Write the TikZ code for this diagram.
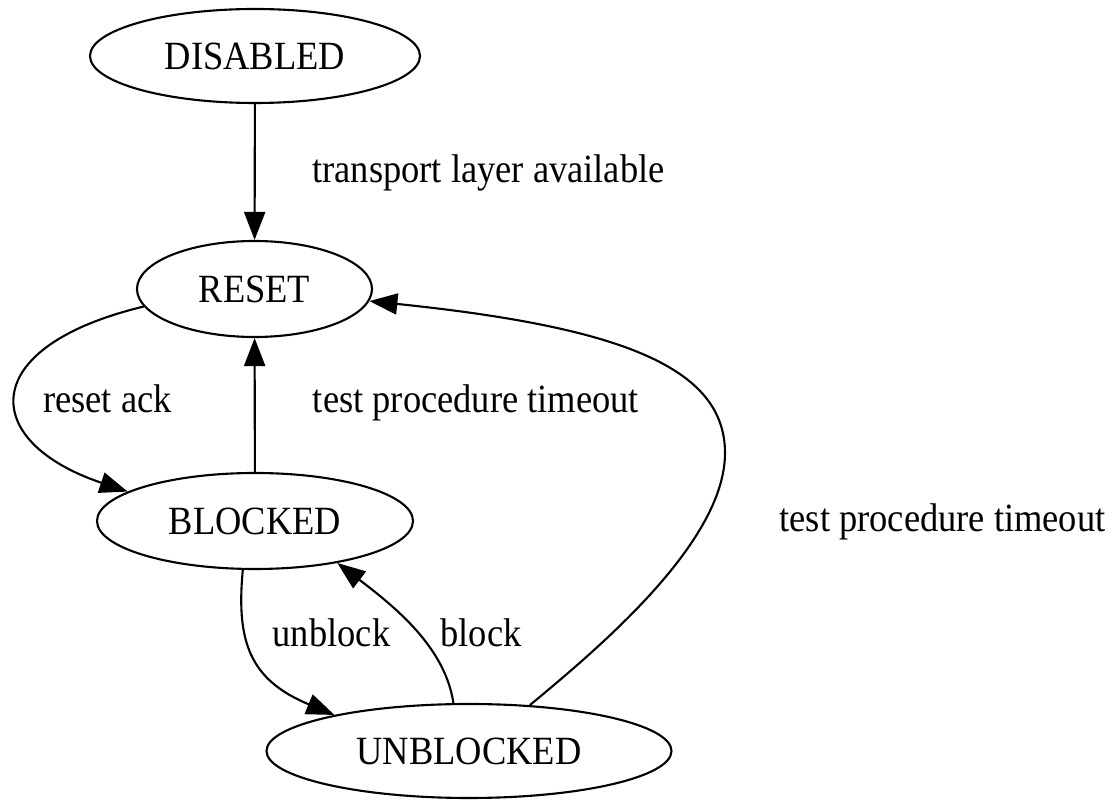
\documentclass[tikz,border=0pt]{standalone}
\usepackage{fontspec}
\setmainfont[FakeStretch=0.91]{Liberation Serif}
\usetikzlibrary{shapes.geometric,arrows.meta}

\tikzset{
  state/.style={draw, ellipse, line width=0.6pt, inner sep=0pt},
  lbl/.style={anchor=base, inner sep=0pt},
  edge/.style={line width=0.6pt, -{Triangle[length=2.8mm,width=2.1mm]}}
}

\begin{document}
\begin{tikzpicture}[font=\fontsize{11.4}{13}\selectfont]
			\useasboundingbox (0,0) rectangle (11.19,8.02);
			% States
			\node[state, minimum width=3.30cm, minimum height=0.94cm] (disabled) at (2.55,7.46) {DISABLED};
			\node[state, minimum width=2.35cm, minimum height=0.96cm] (reset) at (2.545,5.13) {RESET};
			\node[state, minimum width=3.16cm, minimum height=0.96cm] (blocked) at (2.55,2.81) {BLOCKED};
			\node[state, minimum width=4.05cm, minimum height=0.94cm] (unblocked) at (4.69,0.51) {UNBLOCKED};
			% Transitions
			\draw[edge] (disabled) -- (reset);
			\draw[edge] (reset.189) .. controls (-0.25,4.55) and (-0.2,3.6) .. (blocked.167);
			\draw[edge] (blocked) -- (reset);
			\draw[edge] (blocked.256) .. controls (2.36,1.6) and (2.50,1.22) .. (unblocked.165);
			\draw[edge] (unblocked.108) .. controls (4.45,1.55) and (3.95,1.95) .. (blocked.333);
			\draw[edge] (unblocked.37) .. controls (6.0,1.55) and (7.25,2.6) .. (7.25,3.49)
				.. controls (7.25,4.35) and (6.2,4.75) .. (reset.354);
			% Labels
			\node[lbl] (lavail) at (4.885,6.19) {transport layer available};
			\node[lbl] (lack) at (1.075,3.89) {reset ack};
			\node[lbl] (ltimeout) at (4.76,3.89) {test procedure timeout};
			\node[lbl] (ltimeoutb) at (9.425,2.70) {test procedure timeout};
			\node[lbl] (lunblock) at (3.315,1.55) {unblock};
			\node[lbl] (lblock) at (4.81,1.55) {block};
		\end{tikzpicture}
\end{document}
